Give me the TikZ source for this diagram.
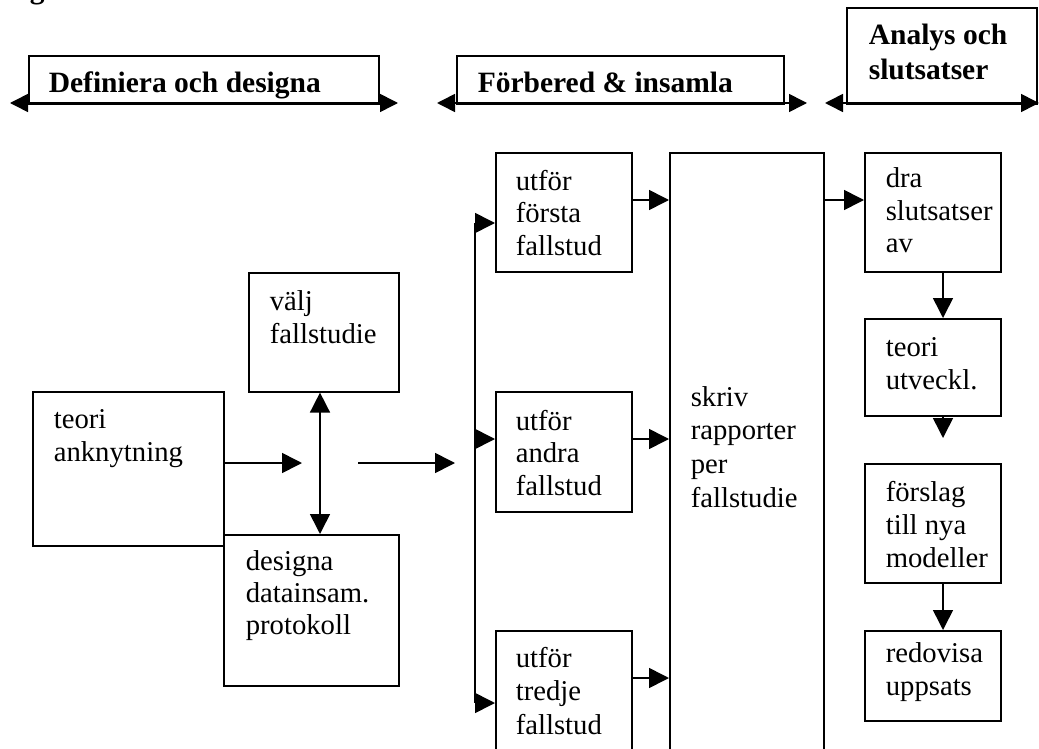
\documentclass[tikz,border=0pt]{standalone}
\usepackage{fontspec}
\setmainfont{Liberation Serif}
\usetikzlibrary{arrows.meta}
\newcommand\stk[2][33]{\vtop{\baselineskip=#1pt\lineskip=0pt\lineskiplimit=-100pt\halign{##\hfil\cr#2\crcr}}}
\begin{document}
\begin{tikzpicture}[x=1pt,y=-1pt,line width=1.6pt,
  box/.style={draw,inner sep=0pt,anchor=north west},
  txt/.style={anchor=base west,inner sep=0pt,font=\fontsize{28.7}{33}\selectfont},
  htxt/.style={anchor=base west,inner sep=0pt,font=\fontsize{29.5}{35}\selectfont\bfseries},
  arr/.style={-{Triangle[length=20pt,width=20pt]}},
  darr/.style={{Triangle[length=20pt,width=20pt]}-{Triangle[length=20pt,width=20pt]}},
  harr/.style={{Triangle[length=18pt,width=18pt]}-{Triangle[length=18pt,width=18pt]}}]
\useasboundingbox (0,0) rectangle (1039,749);

% cut-off letter at the top
\node[htxt] (gcut) at (29,-1) {g};

% header bands
\node[box,minimum width=350pt,minimum height=48pt] (H1) at (28,55) {};
\node[box,minimum width=327pt,minimum height=48pt] (H2) at (456,55) {};
\node[box,minimum width=190pt,minimum height=96pt] (H3) at (846,7) {};
\node[htxt] (h1t) at (48,93) {Definiera och designa};
\node[htxt] (h2t) at (477,93) {Förbered \& insamla};
\node[htxt] (h3t) at (868,45) {\stk[35]{Analys och\cr slutsatser}};
\coordinate (h1l) at (10,103); \coordinate (h1r) at (398,103);
\coordinate (h2l) at (437,103); \coordinate (h2r) at (807,103);
\coordinate (h3l) at (825,103); \coordinate (h3r) at (1039,103);
\draw[harr] (h1l) -- (h1r);
\draw[harr] (h2l) -- (h2r);
\draw[harr] (h3l) -- (h3r);

% boxes
\node[box,minimum width=191pt,minimum height=154pt] (teori) at (32,391) {};
\node[box,minimum width=150pt,minimum height=119pt] (valj) at (248,272) {};
\node[box,minimum width=175pt,minimum height=151pt] (design) at (223,534) {};
\node[box,minimum width=136pt,minimum height=119pt] (u1) at (495,152) {};
\node[box,minimum width=136pt,minimum height=120pt] (u2) at (495,391) {};
\node[box,minimum width=136pt,minimum height=130pt] (u3) at (495,630) {};
\node[box,minimum width=154pt,minimum height=610pt] (skriv) at (669,152) {};
\node[box,minimum width=136pt,minimum height=119pt] (dra) at (864,152) {};
\node[box,minimum width=136pt,minimum height=97pt] (teo) at (864,318) {};
\node[box,minimum width=136pt,minimum height=119pt] (forsl) at (864,463) {};
\node[box,minimum width=136pt,minimum height=90pt] (redov) at (864,630) {};

% texts
\node[txt] (teorit) at (53,428) {\stk{teori\cr anknytning}};
\node[txt] (valjt) at (269,310) {\stk{välj\cr fallstudie}};
\node[txt] (designt) at (245,570) {\stk[32]{designa\cr datainsam.\cr protokoll}};
\node[txt] (u1t) at (515,190) {\stk[32.5]{utför\cr första\cr fallstud}};
\node[txt] (u2t) at (515,430) {\stk[32.5]{utför\cr andra\cr fallstud}};
\node[txt] (u3t) at (515,667) {\stk[33.5]{utför\cr tredje\cr fallstud}};
\node[txt] (skrivt) at (690,406) {\stk[33.7]{skriv\cr rapporter\cr per\cr fallstudie}};
\node[txt] (drat) at (885,187) {\stk{dra\cr slutsatser\cr av}};
\node[txt] (teot) at (885,356) {\stk{teori\cr utveckl.}};
\node[txt] (forslt) at (885,501) {\stk{förslag\cr till nya\cr modeller}};
\node[txt] (redovt) at (885,662) {\stk{redovisa\cr uppsats}};

% connectors, left part
\coordinate (c1) at (302,463);
\coordinate (c2s) at (358,463);
\coordinate (c2e) at (455,463);
\coordinate (vx) at (320,463);
\draw[arr] (teori.east |- c1) -- (c1);
\draw[darr] (vx |- valj.south) -- (vx |- design.north);
\draw[arr] (c2s) -- (c2e);

% distribution line
\coordinate (L1) at (475,223);
\coordinate (L2) at (475,439);
\coordinate (L3) at (475,703);
\draw (L1) -- (L3);
\draw[arr] (L1) -- (L1 -| u1.west);
\draw[arr] (L2) -- (L2 -| u2.west);
\draw[arr] (L3) -- (L3 -| u3.west);

% into the report box and on
\coordinate (r1) at (0,200);
\coordinate (r2) at (0,439);
\coordinate (r3) at (0,678);
\draw[arr] (u1.east |- r1) -- (skriv.west |- r1);
\draw[arr] (u2.east |- r2) -- (skriv.west |- r2);
\draw[arr] (u3.east |- r3) -- (skriv.west |- r3);
\draw[arr] (skriv.east |- r1) -- (dra.west |- r1);

% right column
\coordinate (cx) at (943,0);
\coordinate (tipT) at (943,438);
\draw[arr] (cx |- dra.south) -- (cx |- teo.north);
\draw[arr] (cx |- teo.south) -- (tipT);
\draw[arr] (cx |- forsl.south) -- (cx |- redov.north);
\end{tikzpicture}
\end{document}
